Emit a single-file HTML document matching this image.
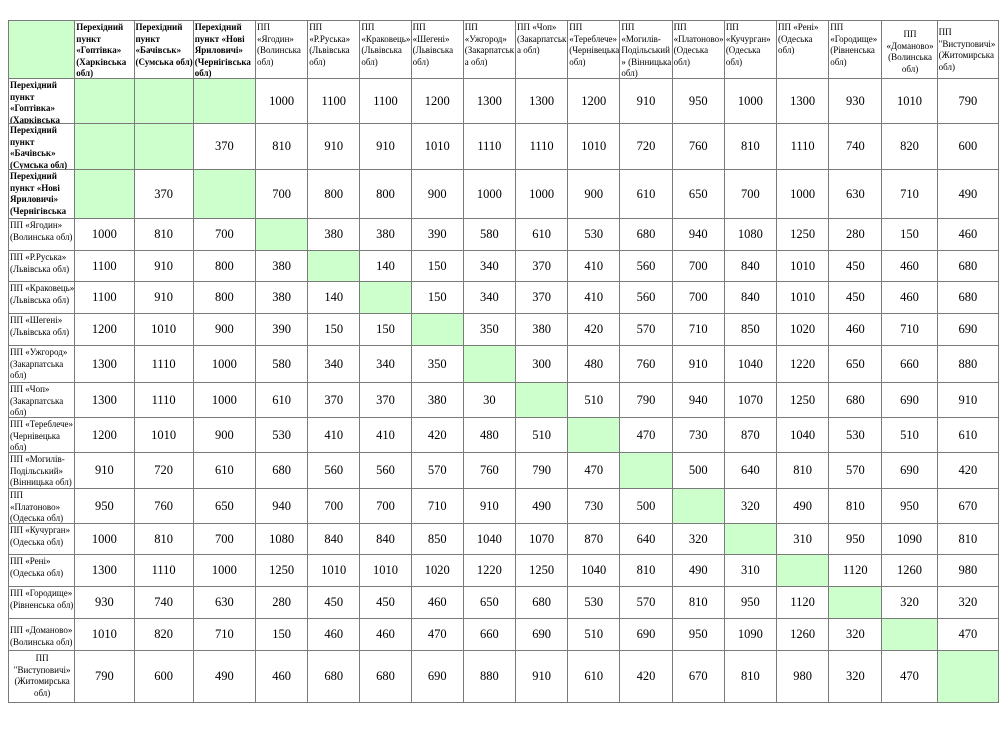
<!DOCTYPE html>
<html><head><meta charset="utf-8">
<style>
html,body{margin:0;padding:0;background:#fff;width:1000px;height:736px;overflow:hidden}
table{position:absolute;left:8px;top:20px;border-collapse:collapse;table-layout:fixed;width:991px;font-family:"Liberation Serif",serif;color:#000}
td{border:1px solid #7a7a7a;padding:0;vertical-align:top;overflow:hidden}
td>div{height:calc(var(--h) - 1px);overflow:hidden;font-size:9px;line-height:11.6px;padding:1px 0 0 1px;box-sizing:border-box;word-wrap:break-word}
tr{height:var(--h)}
td.n{vertical-align:middle;text-align:center;font-size:12.5px}
.g{background:#ccffcc}
.b{font-weight:bold;font-size:9px}
.c{text-align:center}
</style></head><body>
<table>
<colgroup><col style="width:66px"><col style="width:59px"><col style="width:59px"><col style="width:62px"><col style="width:52px"><col style="width:52px"><col style="width:51px"><col style="width:52px"><col style="width:52px"><col style="width:52px"><col style="width:52px"><col style="width:52px"><col style="width:52px"><col style="width:52px"><col style="width:52px"><col style="width:53px"><col style="width:55px"><col style="width:61px"></colgroup>
<tr style="--h:58px">
<td class="g"><div></div></td>
<td><div class="b">Перехідний пункт «Гоптівка» (Харківська обл)</div></td>
<td><div class="b">Перехідний пункт «Бачівськ» (Сумська обл)</div></td>
<td><div class="b">Перехідний пункт «Нові Яриловичі» (Чернігівська обл)</div></td>
<td><div>ПП «Ягодин» (Волинська обл)</div></td>
<td><div>ПП «Р.Руська» (Львівська обл)</div></td>
<td><div>ПП «Краковець» (Львівська обл)</div></td>
<td><div>ПП «Шегені» (Львівська обл)</div></td>
<td><div>ПП «Ужгород» (Закарпатська обл)</div></td>
<td><div>ПП «Чоп» (Закарпатська обл)</div></td>
<td><div>ПП «Тереблече» (Чернівецька обл)</div></td>
<td><div>ПП «Могилів-Подільський» (Вінницька обл)</div></td>
<td><div>ПП «Платоново» (Одеська обл)</div></td>
<td><div>ПП «Кучурган» (Одеська обл)</div></td>
<td><div>ПП «Рені» (Одеська обл)</div></td>
<td><div>ПП «Городище» (Рівненська обл)</div></td>
<td><div class="c" style="padding-top:8px">ПП «Доманово» (Волинська обл)</div></td>
<td><div style="padding-top:6px">ПП "Виступовичі» (Житомирська обл)</div></td>
</tr>
<tr style="--h:45px"><td><div class="b">Перехідний пункт «Гоптівка» (Харківська обл)</div></td><td class="g"></td><td class="g"></td><td class="g"></td><td class="n">1000</td><td class="n">1100</td><td class="n">1100</td><td class="n">1200</td><td class="n">1300</td><td class="n">1300</td><td class="n">1200</td><td class="n">910</td><td class="n">950</td><td class="n">1000</td><td class="n">1300</td><td class="n">930</td><td class="n">1010</td><td class="n">790</td></tr>
<tr style="--h:46px"><td><div class="b">Перехідний пункт «Бачівськ» (Сумська обл)</div></td><td class="g"></td><td class="g"></td><td class="n">370</td><td class="n">810</td><td class="n">910</td><td class="n">910</td><td class="n">1010</td><td class="n">1110</td><td class="n">1110</td><td class="n">1010</td><td class="n">720</td><td class="n">760</td><td class="n">810</td><td class="n">1110</td><td class="n">740</td><td class="n">820</td><td class="n">600</td></tr>
<tr style="--h:49px"><td><div class="b">Перехідний пункт «Нові Яриловичі» (Чернігівська обл)</div></td><td class="g"></td><td class="n">370</td><td class="g"></td><td class="n">700</td><td class="n">800</td><td class="n">800</td><td class="n">900</td><td class="n">1000</td><td class="n">1000</td><td class="n">900</td><td class="n">610</td><td class="n">650</td><td class="n">700</td><td class="n">1000</td><td class="n">630</td><td class="n">710</td><td class="n">490</td></tr>
<tr style="--h:32px"><td><div>ПП «Ягодин» (Волинська обл)</div></td><td class="n">1000</td><td class="n">810</td><td class="n">700</td><td class="g"></td><td class="n">380</td><td class="n">380</td><td class="n">390</td><td class="n">580</td><td class="n">610</td><td class="n">530</td><td class="n">680</td><td class="n">940</td><td class="n">1080</td><td class="n">1250</td><td class="n">280</td><td class="n">150</td><td class="n">460</td></tr>
<tr style="--h:31px"><td><div>ПП «Р.Руська» (Львівська обл)</div></td><td class="n">1100</td><td class="n">910</td><td class="n">800</td><td class="n">380</td><td class="g"></td><td class="n">140</td><td class="n">150</td><td class="n">340</td><td class="n">370</td><td class="n">410</td><td class="n">560</td><td class="n">700</td><td class="n">840</td><td class="n">1010</td><td class="n">450</td><td class="n">460</td><td class="n">680</td></tr>
<tr style="--h:32px"><td><div>ПП «Краковець» (Львівська обл)</div></td><td class="n">1100</td><td class="n">910</td><td class="n">800</td><td class="n">380</td><td class="n">140</td><td class="g"></td><td class="n">150</td><td class="n">340</td><td class="n">370</td><td class="n">410</td><td class="n">560</td><td class="n">700</td><td class="n">840</td><td class="n">1010</td><td class="n">450</td><td class="n">460</td><td class="n">680</td></tr>
<tr style="--h:32px"><td><div>ПП «Шегені» (Львівська обл)</div></td><td class="n">1200</td><td class="n">1010</td><td class="n">900</td><td class="n">390</td><td class="n">150</td><td class="n">150</td><td class="g"></td><td class="n">350</td><td class="n">380</td><td class="n">420</td><td class="n">570</td><td class="n">710</td><td class="n">850</td><td class="n">1020</td><td class="n">460</td><td class="n">710</td><td class="n">690</td></tr>
<tr style="--h:37px"><td><div>ПП «Ужгород» (Закарпатська обл)</div></td><td class="n">1300</td><td class="n">1110</td><td class="n">1000</td><td class="n">580</td><td class="n">340</td><td class="n">340</td><td class="n">350</td><td class="g"></td><td class="n">300</td><td class="n">480</td><td class="n">760</td><td class="n">910</td><td class="n">1040</td><td class="n">1220</td><td class="n">650</td><td class="n">660</td><td class="n">880</td></tr>
<tr style="--h:35px"><td><div>ПП «Чоп» (Закарпатська обл)</div></td><td class="n">1300</td><td class="n">1110</td><td class="n">1000</td><td class="n">610</td><td class="n">370</td><td class="n">370</td><td class="n">380</td><td class="n">30</td><td class="g"></td><td class="n">510</td><td class="n">790</td><td class="n">940</td><td class="n">1070</td><td class="n">1250</td><td class="n">680</td><td class="n">690</td><td class="n">910</td></tr>
<tr style="--h:35px"><td><div>ПП «Тереблече» (Чернівецька обл)</div></td><td class="n">1200</td><td class="n">1010</td><td class="n">900</td><td class="n">530</td><td class="n">410</td><td class="n">410</td><td class="n">420</td><td class="n">480</td><td class="n">510</td><td class="g"></td><td class="n">470</td><td class="n">730</td><td class="n">870</td><td class="n">1040</td><td class="n">530</td><td class="n">510</td><td class="n">610</td></tr>
<tr style="--h:36px"><td><div>ПП «Могилів-Подільський» (Вінницька обл)</div></td><td class="n">910</td><td class="n">720</td><td class="n">610</td><td class="n">680</td><td class="n">560</td><td class="n">560</td><td class="n">570</td><td class="n">760</td><td class="n">790</td><td class="n">470</td><td class="g"></td><td class="n">500</td><td class="n">640</td><td class="n">810</td><td class="n">570</td><td class="n">690</td><td class="n">420</td></tr>
<tr style="--h:35px"><td><div>ПП «Платоново» (Одеська обл)</div></td><td class="n">950</td><td class="n">760</td><td class="n">650</td><td class="n">940</td><td class="n">700</td><td class="n">700</td><td class="n">710</td><td class="n">910</td><td class="n">490</td><td class="n">730</td><td class="n">500</td><td class="g"></td><td class="n">320</td><td class="n">490</td><td class="n">810</td><td class="n">950</td><td class="n">670</td></tr>
<tr style="--h:31px"><td><div>ПП «Кучурган» (Одеська обл)</div></td><td class="n">1000</td><td class="n">810</td><td class="n">700</td><td class="n">1080</td><td class="n">840</td><td class="n">840</td><td class="n">850</td><td class="n">1040</td><td class="n">1070</td><td class="n">870</td><td class="n">640</td><td class="n">320</td><td class="g"></td><td class="n">310</td><td class="n">950</td><td class="n">1090</td><td class="n">810</td></tr>
<tr style="--h:32px"><td><div>ПП «Рені» (Одеська обл)</div></td><td class="n">1300</td><td class="n">1110</td><td class="n">1000</td><td class="n">1250</td><td class="n">1010</td><td class="n">1010</td><td class="n">1020</td><td class="n">1220</td><td class="n">1250</td><td class="n">1040</td><td class="n">810</td><td class="n">490</td><td class="n">310</td><td class="g"></td><td class="n">1120</td><td class="n">1260</td><td class="n">980</td></tr>
<tr style="--h:32px"><td><div>ПП «Городище» (Рівненська обл)</div></td><td class="n">930</td><td class="n">740</td><td class="n">630</td><td class="n">280</td><td class="n">450</td><td class="n">450</td><td class="n">460</td><td class="n">650</td><td class="n">680</td><td class="n">530</td><td class="n">570</td><td class="n">810</td><td class="n">950</td><td class="n">1120</td><td class="g"></td><td class="n">320</td><td class="n">320</td></tr>
<tr style="--h:32px"><td><div style="padding-top:6px">ПП «Доманово» (Волинська обл)</div></td><td class="n">1010</td><td class="n">820</td><td class="n">710</td><td class="n">150</td><td class="n">460</td><td class="n">460</td><td class="n">470</td><td class="n">660</td><td class="n">690</td><td class="n">510</td><td class="n">690</td><td class="n">950</td><td class="n">1090</td><td class="n">1260</td><td class="n">320</td><td class="g"></td><td class="n">470</td></tr>
<tr style="--h:52px"><td><div class="c" style="padding-top:2px">ПП "Виступовичі» (Житомирська обл)</div></td><td class="n">790</td><td class="n">600</td><td class="n">490</td><td class="n">460</td><td class="n">680</td><td class="n">680</td><td class="n">690</td><td class="n">880</td><td class="n">910</td><td class="n">610</td><td class="n">420</td><td class="n">670</td><td class="n">810</td><td class="n">980</td><td class="n">320</td><td class="n">470</td><td class="g"></td></tr>
</table>
</body></html>
